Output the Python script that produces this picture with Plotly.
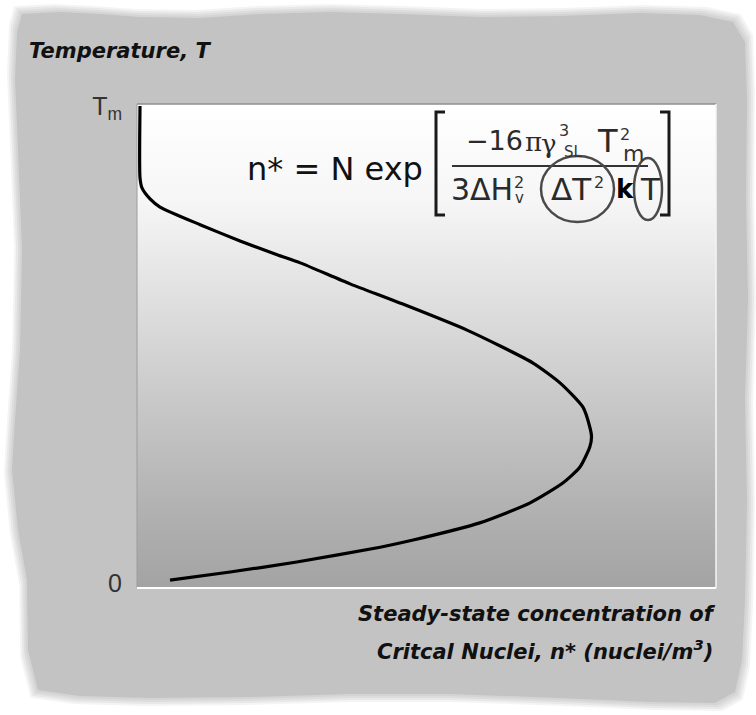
import plotly.graph_objects as go

# ---------------- data ----------------
CONC = [0.52, 0.52, 0.86, 2.25, 3.97, 10.9, 17.8, 24.2, 28.2, 36.8, 45.4, 57.0,
        68.4, 73.1, 77.0, 78.2, 78.5, 78.2, 76.5, 73.6, 67.9, 59.2, 47.7, 42.0,
        27.6, 16.1, 5.7]
TEMP = [1.0, 0.849, 0.828, 0.805, 0.788, 0.751, 0.717, 0.688, 0.671, 0.627, 0.587,
        0.530, 0.461, 0.419, 0.369, 0.327, 0.306, 0.285, 0.243, 0.210, 0.168,
        0.126, 0.090, 0.075, 0.044, 0.023, 0.006]
Y_TICKVALS = [0, 1]
Y_TICKTEXT = ["0", "T<sub>m</sub>"]
X_RANGE = [0, 100]
Y_RANGE = [-0.0105, 1.004]
Y_TITLE = "Temperature, T"
X_TITLE_1 = "Steady-state concentration of"
X_TITLE_2 = "Critcal Nuclei, n* (nuclei/m<sup>3</sup>)"

# ---------------- layout geometry ----------------
W, H = 756, 715
ML, MR, MT, MB = 137, 40, 104, 127
PW, PH = W - ML - MR, H - MT - MB


def px(x):
    return (x - ML) / PW


def py(y):
    return (H - MB - y) / PH


FONT = "DejaVu Sans, Verdana, sans-serif"
GREY = "#c3c3c3"

fig = go.Figure()

# gradient plot background
fig.add_trace(go.Scatter(
    x=[X_RANGE[0], X_RANGE[1], X_RANGE[1], X_RANGE[0], X_RANGE[0]],
    y=[Y_RANGE[0], Y_RANGE[0], Y_RANGE[1], Y_RANGE[1], Y_RANGE[0]],
    mode="lines", fill="toself",
    fillgradient=dict(type="vertical",
                      colorscale=[[0.0, "#a3a3a3"], [0.18, "#b3b3b3"],
                                  [0.39, "#c9c9c9"], [0.6, "#e0e0e0"],
                                  [0.8, "#f6f6f6"], [1.0, "#ffffff"]]),
    line=dict(width=0, color="rgba(0,0,0,0)"),
    hoverinfo="skip", showlegend=False))

# the curve
fig.add_trace(go.Scatter(
    x=CONC, y=TEMP, mode="lines",
    line=dict(color="#000000", width=3.2, shape="spline", smoothing=0.6),
    hoverinfo="skip", showlegend=False))

shapes = []

# torn paper background (pixel outline)
OUTLINE = [(22, 14), (60, 12), (100, 14), (140, 17), (200, 18), (260, 14), (330, 12),
           (400, 14), (480, 17), (560, 16), (640, 13), (700, 15), (733, 22), (745, 42),
           (747, 100), (746, 200), (748, 300), (745, 400), (747, 500), (745, 600),
           (742, 660), (735, 692), (715, 703), (650, 702), (560, 698), (450, 694),
           (350, 694), (250, 697), (150, 698), (80, 696), (38, 690), (28, 650),
           (27, 580), (18, 530), (12, 470), (15, 420), (20, 350), (22, 250),
           (18, 150), (15, 80), (17, 32)]
CX, CY = 381, 357


def outline_path(d):
    sx = 1 + d / 365.0
    sy = 1 + d / 342.0
    pts = []
    for (x, y) in OUTLINE:
        xx = CX + (x - CX) * sx
        yy = CY + (y - CY) * sy
        pts.append(f"{px(xx):.5f},{py(yy):.5f}")
    return "M " + " L ".join(pts) + " Z"


for d, op in [(8, 0.18), (6, 0.25), (4, 0.3), (2, 0.35), (0, 1.0)]:
    shapes.append(dict(type="path", path=outline_path(d), xref="paper", yref="paper",
                       fillcolor=GREY, opacity=op, line=dict(width=0), layer="below"))

# plot-area bevel edges
shapes += [
    dict(type="line", xref="paper", yref="paper", x0=0, x1=1, y0=1, y1=1,
         line=dict(color="#8e8e8e", width=1.5)),
    dict(type="line", xref="paper", yref="paper", x0=0, x1=0, y0=0, y1=1,
         line=dict(color="#9c9c9c", width=1)),
    dict(type="line", xref="paper", yref="paper", x0=0, x1=1, y0=0, y1=0,
         line=dict(color="#ffffff", width=2)),
    dict(type="line", xref="paper", yref="paper", x0=1, x1=1, y0=0, y1=1,
         line=dict(color="#f4f4f4", width=1.5)),
]


def ppath(points):
    return "M " + " L ".join(f"{px(x):.5f},{py(y):.5f}" for x, y in points)


# formula brackets and fraction bar
shapes.append(dict(type="path", xref="paper", yref="paper",
                   path=ppath([(445, 112), (436, 112), (436, 215), (445, 215)]),
                   line=dict(color="#1a1a1a", width=3)))
shapes.append(dict(type="path", xref="paper", yref="paper",
                   path=ppath([(660, 112), (669, 112), (669, 215), (660, 215)]),
                   line=dict(color="#1a1a1a", width=3)))
shapes.append(dict(type="line", xref="paper", yref="paper",
                   x0=px(452), x1=px(648), y0=py(166), y1=py(166),
                   line=dict(color="#333333", width=2)))
# ovals
shapes.append(dict(type="circle", xref="paper", yref="paper",
                   x0=px(541), x1=px(614), y0=py(222), y1=py(156),
                   line=dict(color="#4a4a4a", width=2.5)))
shapes.append(dict(type="circle", xref="paper", yref="paper",
                   x0=px(634), x1=px(662), y0=py(220), y1=py(158),
                   line=dict(color="#4a4a4a", width=2.5)))

annotations = []


def txt(text, x, y, size, color="#222222", xanchor="center", family=FONT):
    annotations.append(dict(text=text, x=px(x), y=py(y), xref="paper", yref="paper",
                            xanchor=xanchor, yanchor="middle", showarrow=False,
                            font=dict(family=family, size=size, color=color)))


# formula pieces
txt("n* = N exp", 335, 169, 32, "#111111")
txt("\u221216", 494, 140, 27, "#2a2a2a")
txt("\u03c0", 533, 142, 26, "#2a2a2a", family="DejaVu Serif, serif")
txt("\u03b3", 549, 144, 26, "#2a2a2a", family="DejaVu Serif, serif")
txt("3", 564, 130, 16, "#333333")
txt("SL", 573, 152, 15, "#333333")
txt("T", 607, 141, 32, "#2a2a2a")
txt("2", 625, 134, 16, "#333333")
txt("m", 633, 153, 22, "#333333")
txt("3\u0394H", 482, 189, 30, "#2a2a2a")
txt("2", 519, 182, 16, "#333333")
txt("v", 519, 198, 15, "#333333")
txt("\u0394T", 571, 189, 31, "#2a2a2a")
txt("2", 599, 182, 16, "#333333")
txt("<b>k</b>", 625, 189, 26, "#000000")
txt("T", 650, 189, 31, "#2a2a2a")

# axis titles
txt(f"<b><i>{Y_TITLE}</i></b>", 27, 51, 21, "#111111", xanchor="left")
txt(f"<b><i>{X_TITLE_1}</i></b>", 718, 614, 21, "#111111", xanchor="right")
txt(f"<b><i>{X_TITLE_2}</i></b>", 715, 650, 21, "#111111", xanchor="right")

fig.update_layout(
    width=W, height=H, autosize=False,
    margin=dict(l=ML, r=MR, t=MT, b=MB, pad=0),
    paper_bgcolor="#ffffff", plot_bgcolor="rgba(0,0,0,0)",
    showlegend=False,
    shapes=shapes, annotations=annotations,
    xaxis=dict(range=X_RANGE, showgrid=False, zeroline=False, showline=False,
               showticklabels=False, ticks="", fixedrange=True),
    yaxis=dict(range=Y_RANGE, showgrid=False, zeroline=False, showline=False,
               tickvals=Y_TICKVALS, ticktext=Y_TICKTEXT, ticks="",
               ticklabelstandoff=14,
               tickfont=dict(family="Liberation Sans Narrow, Liberation Sans, Arial",
                             size=25, color="#333333"),
               fixedrange=True),
)

fig.write_html("out.html", config={"displayModeBar": False})
